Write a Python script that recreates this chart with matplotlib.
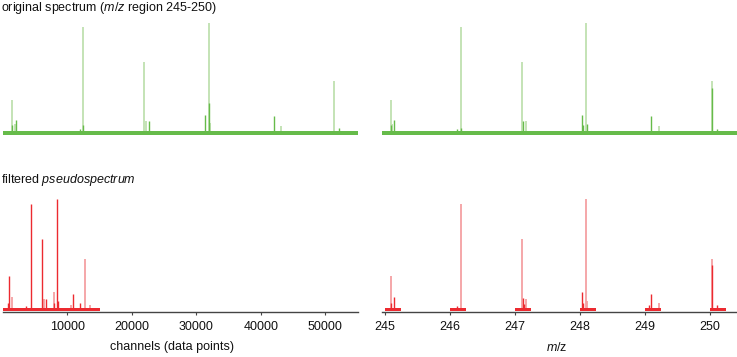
import matplotlib
matplotlib.use("Agg")
import matplotlib.pyplot as plt

plt.rcParams['font.family'] = ['Liberation Sans', 'DejaVu Sans']
plt.rcParams['mathtext.fontset'] = 'custom'
plt.rcParams['mathtext.rm'] = 'Liberation Sans'
plt.rcParams['mathtext.it'] = 'Liberation Sans:italic'

# ---------------- data (intensity in % of the largest peak) ----------------
# original spectrum, channel axis
orig_ch_pos = [1473, 1891, 1473, 2093, 11922, 12481, 12481, 21938, 22155, 22713,
               31349, 31969, 31969, 32124, 42093, 43085, 51302, 52124]
orig_ch_height = [30, 8, 7, 12, 4, 96, 7, 64, 11, 11,
                  16, 100, 27, 9, 15, 6, 47, 5]
orig_ch_dark = [0, 0, 1, 1, 1, 0, 1, 0, 0, 1,
                1, 0, 1, 0, 1, 0, 0, 1]

# original spectrum, m/z axis
orig_mz_pos = [245.092, 245.115, 245.092, 245.143, 246.108, 246.169, 246.169,
               247.108, 247.118, 247.169, 248.035, 248.051, 248.092, 248.112,
               249.097, 249.211, 250.031, 250.031, 250.112]
orig_mz_height = [30, 8, 7, 12, 4, 96, 5,
                  64, 11, 11, 16, 7, 100, 8,
                  15, 6, 47, 41, 4]
orig_mz_dark = [0, 0, 1, 1, 1, 0, 1,
                0, 1, 0, 1, 1, 0, 1,
                1, 0, 0, 1, 1]

# filtered pseudospectrum, channel axis
filt_ch_pos = [806, 961, 1473, 3597, 4326, 6124, 6341, 6651, 7891, 7984,
               8450, 8605, 10620, 10930, 12016, 12744, 13519]
filt_ch_height = [6, 30, 11, 3, 96, 64, 10, 10, 16, 6,
                  100, 8, 4, 14, 6, 46, 4]
filt_ch_dark = [1, 1, 0, 1, 1, 1, 0, 1, 0, 1,
                1, 1, 0, 1, 1, 0, 0]

# filtered pseudospectrum, m/z axis
filt_mz_pos = [245.092, 245.092, 245.143, 246.108, 246.169, 247.108, 247.118,
               247.140, 247.169, 248.035, 248.051, 248.092, 248.112, 249.060,
               249.097, 249.211, 250.031, 250.031, 250.112]
filt_mz_height = [30, 6, 11, 3, 96, 64, 10.6,
                  5, 10, 15.6, 6, 100, 7.7, 4,
                  14, 6, 46, 40, 4]
filt_mz_dark = [0, 1, 1, 1, 0, 0, 1,
                1, 0, 1, 1, 0, 0, 1,
                1, 0, 0, 1, 1]

# extents of recorded / retained data
channel_range = [0, 55000]
mz_range = [244.95, 250.41]
filtered_channel_range = [0, 15000]
window_starts = [245, 246, 247, 248, 249, 250]
window_width = 0.25

channel_ticks = [10000, 20000, 30000, 40000, 50000]
mz_ticks = [245, 246, 247, 248, 249, 250]

# ---------------- styling ----------------
GREEN_LIGHT = '#bfe1b0'
GREEN_DARK = '#66bb4a'
RED_LIGHT = '#f5a0a3'
RED_DARK = '#ec2a30'
AXIS = '#444444'
FS = 9.0

fig = plt.figure(figsize=(7.37, 3.57), dpi=100)

W, H = 737.0, 357.0
def add_ax(x0, x1, ybot, height):
    return fig.add_axes([x0 / W, (H - ybot) / H, (x1 - x0) / W, height / H])

AX_H = 118.6
ax_tl = add_ax(2.7, 358.3, 135.8, AX_H)
ax_tr = add_ax(381.7, 736.7, 135.8, AX_H)
ax_bl = add_ax(2.7, 358.3, 312.3, AX_H)
ax_br = add_ax(381.7, 736.7, 312.3, AX_H)

YLIM = (-2.5, 105)


def draw_peaks(ax, pos, hgt, dark, light_c, dark_c):
    lp = [p for p, d in zip(pos, dark) if not d]
    lh = [h for h, d in zip(hgt, dark) if not d]
    dp = [p for p, d in zip(pos, dark) if d]
    dh = [h for h, d in zip(hgt, dark) if d]
    ax.vlines(lp, 0, lh, colors=light_c, linewidth=1.3, zorder=2)
    ax.vlines(dp, 0, dh, colors=dark_c, linewidth=1.0, zorder=3)


# top-left
ax_tl.fill_between(channel_range, -1.5, 1.5, color=GREEN_DARK, linewidth=0, zorder=4)
draw_peaks(ax_tl, orig_ch_pos, orig_ch_height, orig_ch_dark, GREEN_LIGHT, GREEN_DARK)
ax_tl.set_xlim(0, 55100)

# top-right
ax_tr.fill_between(mz_range, -1.5, 1.5, color=GREEN_DARK, linewidth=0, zorder=4)
draw_peaks(ax_tr, orig_mz_pos, orig_mz_height, orig_mz_dark, GREEN_LIGHT, GREEN_DARK)
ax_tr.set_xlim(244.949, 250.411)

# bottom-left
ax_bl.fill_between(filtered_channel_range, -1.4, 1.8, color=RED_DARK, linewidth=0, zorder=4)
draw_peaks(ax_bl, filt_ch_pos, filt_ch_height, filt_ch_dark, RED_LIGHT, RED_DARK)
ax_bl.set_xlim(0, 55100)

# bottom-right
for ws in window_starts:
    ax_br.fill_between([ws, ws + window_width], -1.4, 1.8, color=RED_DARK,
                       linewidth=0, zorder=4)
draw_peaks(ax_br, filt_mz_pos, filt_mz_height, filt_mz_dark, RED_LIGHT, RED_DARK)
ax_br.set_xlim(244.949, 250.411)

for ax in (ax_tl, ax_tr, ax_bl, ax_br):
    ax.set_ylim(*YLIM)
    ax.set_yticks([])
    for s in ('top', 'right', 'left'):
        ax.spines[s].set_visible(False)
    ax.patch.set_alpha(0)

for ax in (ax_tl, ax_tr):
    ax.spines['bottom'].set_visible(False)
    ax.set_xticks([])

for ax, ticks in ((ax_bl, channel_ticks), (ax_br, mz_ticks)):
    ax.spines['bottom'].set_color(AXIS)
    ax.spines['bottom'].set_linewidth(1.0)
    ax.set_xticks(ticks)
    ax.set_xticklabels([str(t) for t in ticks])
    ax.tick_params(axis='x', direction='out', length=2.5, width=0.8,
                   color=AXIS, pad=4.0, labelsize=FS, labelcolor='#111111')

ax_bl.set_xlabel('channels (data points)', fontsize=FS, color='#111111')
ax_bl.xaxis.set_label_coords(0.475, -0.245)
ax_br.set_xlabel(r'$\mathit{m/}$z', fontsize=FS, color='#111111')
ax_br.xaxis.set_label_coords(0.493, -0.245)

fig.text(0.0015, 1 - 11.0 / H, r'original spectrum ($\mathit{m/z}$ region 245-250)',
         fontsize=FS, va='baseline', ha='left', color='#111111')
fig.text(0.0015, 1 - 183.3 / H, r'filtered $\mathit{pseudospectrum}$',
         fontsize=FS, va='baseline', ha='left', color='#111111')

fig.savefig('out.png', dpi=100)
